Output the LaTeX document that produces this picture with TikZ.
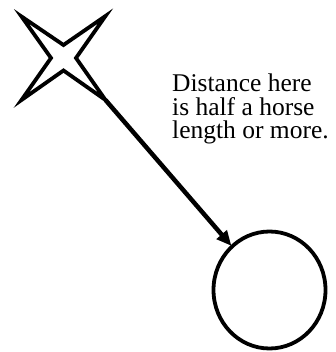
\documentclass[tikz,border=0pt]{standalone}
\usepackage{fontspec}
\setmainfont{Liberation Serif}
\usetikzlibrary{arrows.meta,shapes.geometric}
\begin{document}
\begin{tikzpicture}[x=1pt,y=-1pt,
  shapeline/.style={draw=black,line width=3.8pt},
  arr/.style={draw=black,line width=4.5pt,-{Triangle[length=15pt,width=13pt]},shorten >=-1pt},
  lbl/.style={inner sep=0pt,align=left,font=\fontsize{25.5}{23.5}\selectfont}]
\useasboundingbox (0,0) rectangle (335,352);
% four-pointed star
\draw[shapeline,fill=white] (21.5,16.5) -- (63.5,45) -- (105.5,16) -- (76,58) -- (105.5,100) -- (63.5,70.5) -- (21.5,100) -- (51,58) -- cycle;
\coordinate (tip) at (105.5,100);
\node[shapeline,ellipse,inner sep=0pt,minimum width=112pt,minimum height=117pt] (e) at (269.5,290) {};
\draw[arr] (tip) -- (e);
\node[lbl,anchor=north west] (t) at (172,74) {Distance here\\is half a horse\\length or more.};
\end{tikzpicture}
\end{document}
